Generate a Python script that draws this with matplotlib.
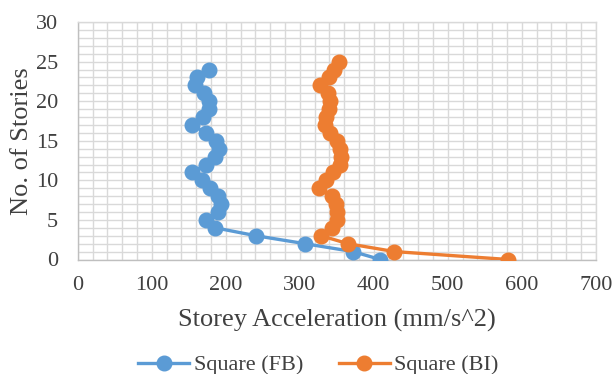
import matplotlib.pyplot as plt
from matplotlib.ticker import MultipleLocator

plt.rcParams['font.family'] = ['Liberation Serif', 'DejaVu Serif']

storeys_fb = list(range(25))
accel_fb = [409, 372, 307, 241, 186, 173, 189, 193, 189, 179, 168, 154, 173,
            186, 191, 187, 173, 155, 169, 177, 178, 171, 159, 161, 178]

storeys_bi = list(range(26))
accel_bi = [582, 428, 365, 329, 344, 350, 351, 349, 343, 326, 336, 345, 355,
            356, 354, 350, 341, 334, 335, 340, 341, 338, 328, 340, 347, 353]

fig = plt.figure(figsize=(6.15, 3.74), dpi=100)
ax = fig.add_axes([77.7 / 615, 1 - 259.5 / 374, (595.7 - 77.7) / 615, (259.5 - 22) / 374])

ax.plot(accel_fb, storeys_fb, color='#5b9bd5', lw=2.4, marker='o', ms=10.5,
        label='Square (FB)', zorder=3)
ax.plot(accel_bi, storeys_bi, color='#ed7d31', lw=2.4, marker='o', ms=10.5,
        label='Square (BI)', zorder=3)

ax.set_xlim(0, 700)
ax.set_ylim(0, 30)
ax.xaxis.set_major_locator(MultipleLocator(100))
ax.xaxis.set_minor_locator(MultipleLocator(20))
ax.yaxis.set_major_locator(MultipleLocator(5))
ax.yaxis.set_minor_locator(MultipleLocator(1))

ax.grid(which='both', color='#d9d9d9', lw=1)
ax.set_axisbelow(True)
for s in ax.spines.values():
    s.set_color('#d9d9d9')
    s.set_linewidth(1)
ax.spines['bottom'].set_color('#bfbfbf')
ax.spines['left'].set_color('#bfbfbf')

ax.tick_params(which='both', length=0, labelsize=16, colors='#404040')
ax.tick_params(axis='x', pad=12)
ax.tick_params(axis='y', pad=14)
ax.set_xlabel('Storey Acceleration (mm/s^2)', fontsize=19, color='#404040', labelpad=10)
ax.set_ylabel('No. of Stories', fontsize=19, color='#404040', labelpad=2)

ax.legend(loc='center', bbox_to_anchor=(0.465, -0.445), ncol=2, frameon=False,
          fontsize=16, handlelength=2.3, columnspacing=1.6, labelcolor='#404040',
          handletextpad=0.2)

fig.savefig('out.png', dpi=100)
